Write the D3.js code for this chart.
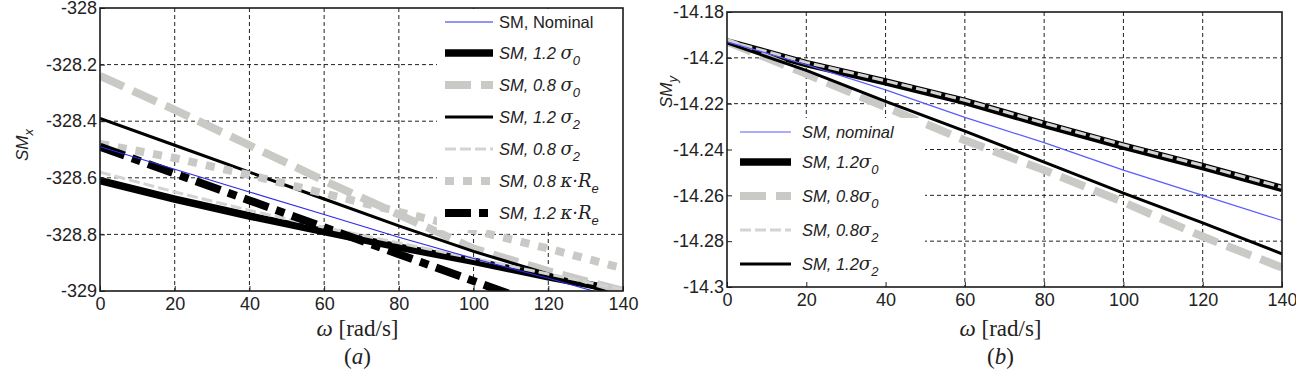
<!DOCTYPE html>
<html>
<head>
<meta charset="utf-8">
<script src="https://cdn.jsdelivr.net/npm/d3@7"></script>
<style>
  html, body { margin: 0; padding: 0; background: #fff; }
  svg { display: block; font-family: "Liberation Sans", Arial, sans-serif; }
</style>
</head>
<body>
<svg id="chart" width="1296" height="372"></svg>
<script>
// ---- data ----
const OMEGA = [0, 20, 40, 60, 80, 100, 120, 140];

// (a) SM_x
const SMX_NOMINAL   = [-328.49, -328.57, -328.65, -328.73, -328.81, -328.885, -328.955, -329.03];
const SMX_S0_12     = [-328.61, -328.675, -328.735, -328.79, -328.845, -328.895, -328.95, -329.0];
const SMX_S0_08     = [-328.24, -328.36, -328.485, -328.61, -328.73, -328.85, -328.93, -329.0];
const SMX_S2_12     = [-328.39, -328.485, -328.58, -328.675, -328.77, -328.86, -328.94, -329.02];
const SMX_S2_08     = [-328.58, -328.65, -328.715, -328.775, -328.83, -328.885, -328.94, -328.995];
const SMX_KRE_08    = [-328.48, -328.53, -328.59, -328.655, -328.72, -328.785, -328.85, -328.92];
const SMX_KRE_12    = [-328.49, -328.585, -328.68, -328.775, -328.87, -328.965, -329.06, -329.15];

// (b) SM_y
const SMY_NOMINAL   = [-14.193, -14.203, -14.214, -14.226, -14.237, -14.249, -14.26, -14.271];
const SMY_S0_12     = [-14.193, -14.2025, -14.2105, -14.219, -14.229, -14.2385, -14.2475, -14.257];
const SMY_S0_08     = [-14.193, -14.207, -14.2215, -14.236, -14.249, -14.263, -14.278, -14.2915];
const SMY_S2_08     = [-14.1925, -14.202, -14.21, -14.2185, -14.2285, -14.238, -14.247, -14.2565];
const SMY_S2_12     = [-14.1935, -14.2055, -14.219, -14.232, -14.2455, -14.259, -14.272, -14.2855];

const X_TICKS  = [0, 20, 40, 60, 80, 100, 120, 140];
const YA_TICKS = [-329, -328.8, -328.6, -328.4, -328.2, -328];
const YB_TICKS = [-14.3, -14.28, -14.26, -14.24, -14.22, -14.2, -14.18];

// ---- styles ----
const GRAY = "#c9c9c6";
const LIGHT = "#d3d3d1";
const STYLE = {
  nomA:  { color: "#2a2ae6", width: 1.1, dash: null },
  nomB:  { color: "#5a5aff", width: 1.2, dash: null },
  s012:  { color: "#000", width: 7.5, dash: null },
  s008:  { color: GRAY, width: 8, dash: "26,10" },
  s212:  { color: "#000", width: 3, dash: null },
  s208:  { color: LIGHT, width: 3, dash: "11,4" },
  kre08: { color: GRAY, width: 8, dash: "9,9" },
  kre12: { color: "#000", width: 8, dash: "26,8,9,8" }
};

const seriesA = [
  { values: SMX_S0_12,  style: STYLE.s012,  label: ["SM, 1.2 ", { sym: "σ", sub: "0" }] },
  { values: SMX_S0_08,  style: STYLE.s008,  label: ["SM, 0.8 ", { sym: "σ", sub: "0" }] },
  { values: SMX_S2_12,  style: STYLE.s212,  label: ["SM, 1.2 ", { sym: "σ", sub: "2" }] },
  { values: SMX_S2_08,  style: STYLE.s208,  label: ["SM, 0.8 ", { sym: "σ", sub: "2" }] },
  { values: SMX_KRE_08, style: STYLE.kre08, label: ["SM, 0.8 ", { sym: "κ·R", sub: "e" }] },
  { values: SMX_KRE_12, style: STYLE.kre12, label: ["SM, 1.2 ", { sym: "κ·R", sub: "e" }] },
  { values: SMX_NOMINAL, style: STYLE.nomA, label: ["SM, Nominal"], upright: true, legendIdx: 0 }
];

const seriesB = [
  { values: SMY_S0_12,  style: STYLE.s012, label: ["SM, 1.2", { sym: "σ", sub: "0" }] },
  { values: SMY_S0_08,  style: STYLE.s008, label: ["SM, 0.8", { sym: "σ", sub: "0" }] },
  { values: SMY_S2_08,  style: STYLE.s208, label: ["SM, 0.8", { sym: "σ", sub: "2" }] },
  { values: SMY_S2_12,  style: STYLE.s212, label: ["SM, 1.2", { sym: "σ", sub: "2" }] },
  { values: SMY_NOMINAL, style: STYLE.nomB, label: ["SM, nominal"], legendIdx: 0 }
];

const svg = d3.select("#chart");

/**
 * Panel: frame, grid, axes, lines
 */
function drawPanel(cfg) {
  const x = d3.scaleLinear().domain([0, 140]).range([cfg.x0, cfg.x1]);
  const y = d3.scaleLinear().domain(cfg.yDomain).range([cfg.y1, cfg.y0]);
  const g = svg.append("g");

  g.append("clipPath").attr("id", cfg.id + "-clip")
    .append("rect")
    .attr("x", cfg.x0).attr("y", cfg.y0)
    .attr("width", cfg.x1 - cfg.x0).attr("height", cfg.y1 - cfg.y0);

  // grid
  const gGrid = g.append("g");
  X_TICKS.slice(1, -1).forEach(t => {
    gGrid.append("line")
      .attr("x1", x(t)).attr("x2", x(t))
      .attr("y1", cfg.y0).attr("y2", cfg.y1)
      .attr("stroke", "#222").attr("stroke-width", 1).attr("stroke-dasharray", "4,3");
  });
  cfg.yTicks.slice(1, -1).forEach(t => {
    gGrid.append("line")
      .attr("x1", cfg.x0).attr("x2", cfg.x1)
      .attr("y1", y(t)).attr("y2", y(t))
      .attr("stroke", "#222").attr("stroke-width", 1).attr("stroke-dasharray", "4,3");
  });

  // lines
  const line = d3.line().x((d, i) => x(OMEGA[i])).y(d => y(d));
  const gLines = g.append("g").attr("clip-path", `url(#${cfg.id}-clip)`);
  cfg.series.forEach(s => {
    gLines.append("path")
      .datum(s.values)
      .attr("d", line)
      .attr("fill", "none")
      .attr("stroke", s.style.color)
      .attr("stroke-width", s.style.width)
      .attr("stroke-dasharray", s.style.dash);
  });

  // legend (white box over grid and lines)
  drawLegend(g, cfg);

  // axes
  const fmt = d => String(+d.toFixed(2));
  const ax = g.append("g")
    .attr("transform", `translate(0,${cfg.y1})`)
    .call(d3.axisBottom(x).tickValues(X_TICKS).tickSize(-5).tickPadding(6).tickFormat(d3.format("d")));
  const ay = g.append("g")
    .attr("transform", `translate(${cfg.x0},0)`)
    .call(d3.axisLeft(y).tickValues(cfg.yTicks).tickSize(-5).tickPadding(3).tickFormat(fmt));
  [ax, ay].forEach(a => {
    a.select(".domain").remove();
    a.selectAll("text").attr("fill", "#222").style("font-size", "18px")
      .style("font-family", '"Liberation Sans", Arial, sans-serif');
    a.selectAll("line").attr("stroke", "#222");
  });

  g.append("rect")
    .attr("x", cfg.x0).attr("y", cfg.y0)
    .attr("width", cfg.x1 - cfg.x0).attr("height", cfg.y1 - cfg.y0)
    .attr("fill", "none").attr("stroke", "#1a1a1a").attr("stroke-width", 1.6);

  // axis titles
  const xm = (cfg.x0 + cfg.x1) / 2 - 4;
  const t = g.append("text")
    .attr("x", xm).attr("y", 336)
    .attr("text-anchor", "middle")
    .style("font-family", '"Liberation Serif", "Times New Roman", serif')
    .style("font-size", "23px").attr("fill", "#222");
  t.append("tspan").style("font-style", "italic").text("ω");
  t.append("tspan").text(" [rad/s]");

  g.append("text")
    .attr("x", xm).attr("y", 364)
    .attr("text-anchor", "middle")
    .style("font-family", '"Liberation Serif", "Times New Roman", serif')
    .style("font-size", "23px").attr("fill", "#222")
    .html(`(<tspan font-style="italic">${cfg.tag}</tspan>)`);

  const yl = g.append("text")
    .attr("transform", `translate(${cfg.ylabelX},${cfg.ylabelY}) rotate(-90)`)
    .attr("text-anchor", "middle")
    .style("font-size", "17px").style("font-style", "italic").attr("fill", "#222");
  yl.append("tspan").text("SM");
  yl.append("tspan").attr("dy", 5).style("font-size", "13px").text(cfg.ysub);
}

/**
 * Legend: rows of line sample + label with subscript
 */
function drawLegend(g, cfg) {
  const L = cfg.legend;
  g.append("rect")
    .attr("x", L.x0).attr("y", L.y0)
    .attr("width", L.x1 - L.x0).attr("height", L.y1 - L.y0)
    .attr("fill", "#fff");

  const ordered = cfg.series.slice().sort((a, b) => (a.legendIdx ?? 1) - (b.legendIdx ?? 1));
  ordered.forEach((s, i) => {
    const ry = L.rows[i];
    g.append("line")
      .attr("x1", L.sx0).attr("x2", L.sx1)
      .attr("y1", ry).attr("y2", ry)
      .attr("stroke", s.style.color)
      .attr("stroke-width", s.style.width)
      .attr("stroke-dasharray", s.style.dash);

    const txt = g.append("text")
      .attr("x", L.tx).attr("y", ry + 6)
      .attr("fill", "#222")
      .style("font-size", "16.5px")
      .style("font-style", s.upright ? "normal" : "italic");
    s.label.forEach(p => {
      if (typeof p === "string") {
        txt.append("tspan").text(p);
      } else {
        txt.append("tspan").style("font-size", "18px")
          .style("font-family", '"DejaVu Serif", serif').text(p.sym);
        txt.append("tspan").attr("dy", 6).style("font-size", "13px").text(p.sub);
      }
    });
  });
}

drawPanel({
  id: "pa", tag: "a", ysub: "x",
  x0: 100, x1: 623, y0: 8, y1: 291,
  yDomain: [-329, -328], yTicks: YA_TICKS,
  ylabelX: 28, ylabelY: 145,
  series: seriesA,
  legend: {
    x0: 437, x1: 622, y0: 9, y1: 230,
    sx0: 445, sx1: 493, tx: 499,
    rows: [22, 53, 85, 117, 149, 181, 213]
  }
});

drawPanel({
  id: "pb", tag: "b", ysub: "y",
  x0: 727, x1: 1282, y0: 12, y1: 287,
  yDomain: [-14.3, -14.18], yTicks: YB_TICKS,
  ylabelX: 672, ylabelY: 92,
  series: seriesB,
  legend: {
    x0: 728, x1: 925, y0: 118, y1: 286,
    sx0: 740, sx1: 791, tx: 802,
    rows: [132, 162, 196, 230, 264]
  }
});
</script>
</body>
</html>
